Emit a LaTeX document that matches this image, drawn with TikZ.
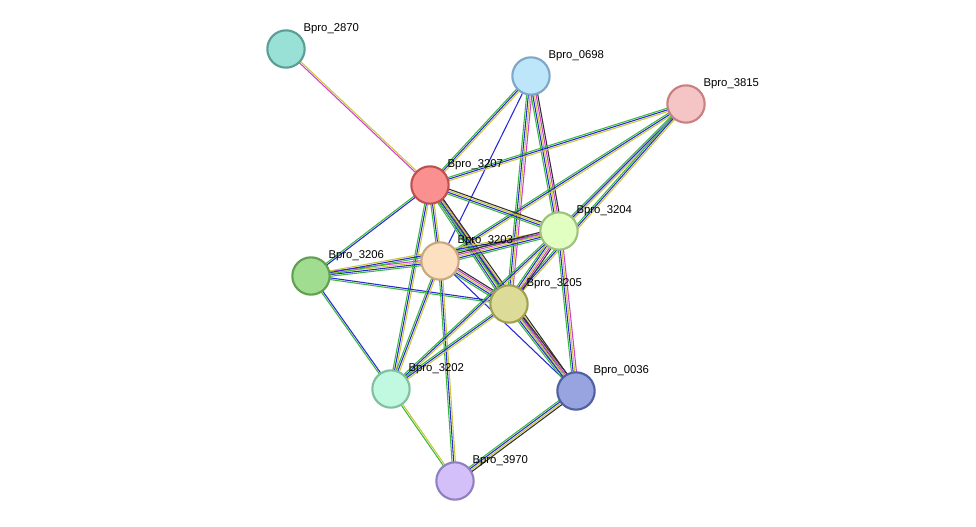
\documentclass[tikz,border=0pt]{standalone}
\usepackage{fontspec}
\setmainfont{Liberation Sans}
\usetikzlibrary{calc,backgrounds}
\definecolor{nb}{HTML}{3CB93C}
\definecolor{co}{HTML}{2828D8}
\definecolor{tm}{HTML}{C8C83A}
\definecolor{ex}{HTML}{D040D0}
\definecolor{bk}{HTML}{303030}
\tikzset{
  prot/.style={circle,draw,line width=1.6pt,minimum size=28pt,inner sep=0pt},
  lab/.style={font=\fontsize{8.5}{9}\selectfont,inner sep=1pt,anchor=south west},
}
\newcommand\edge[3]{%
  \foreach \c [count=\i] in {#3} {\xdef\ne{\i}}
  \foreach \c [count=\i] in {#3} {
    \pgfmathsetmacro\off{(\i-(\ne+1)/2)*1.25}
    \draw[\c,line width=0.8pt] ($(#1.center)!\off pt!90:(#2.center)$) -- ($(#2.center)!\off pt!-90:(#1.center)$);}}
\begin{document}
\begin{tikzpicture}[x=0.75pt,y=-0.75pt]
\useasboundingbox (0,0) rectangle (976,527);
% proteins
\node[prot,fill={rgb,255:red,153;green,224;blue,214},draw={rgb,255:red,90;green,158;blue,149}] (b2870) at (286,49) {};
\node[prot,fill={rgb,255:red,189;green,230;blue,250},draw={rgb,255:red,127;green,168;blue,200}] (b0698) at (531,76) {};
\node[prot,fill={rgb,255:red,245;green,196;blue,196},draw={rgb,255:red,200;green,128;blue,128}] (b3815) at (686,104) {};
\node[prot,fill={rgb,255:red,250;green,144;blue,144},draw={rgb,255:red,192;green,80;blue,80}] (b3207) at (430,185) {};
\node[prot,fill={rgb,255:red,224;green,255;blue,192},draw={rgb,255:red,160;green,192;blue,128}] (b3204) at (559,231) {};
\node[prot,fill={rgb,255:red,160;green,221;blue,144},draw={rgb,255:red,96;green,160;blue,80}] (b3206) at (311,276) {};
\node[prot,fill={rgb,255:red,252;green,224;blue,192},draw={rgb,255:red,200;green,168;blue,128}] (b3203) at (440,261) {};
\node[prot,fill={rgb,255:red,220;green,220;blue,152},draw={rgb,255:red,160;green,160;blue,80}] (b3205) at (509,304) {};
\node[prot,fill={rgb,255:red,192;green,248;blue,224},draw={rgb,255:red,128;green,192;blue,160}] (b3202) at (391,389) {};
\node[prot,fill={rgb,255:red,152;green,164;blue,224},draw={rgb,255:red,80;green,96;blue,160}] (b0036) at (576,391) {};
\node[prot,fill={rgb,255:red,212;green,192;blue,248},draw={rgb,255:red,144;green,128;blue,192}] (b3970) at (455,481) {};
% labels
\foreach \n in {2870,0698,3815,3207,3204,3206,3203,3205,3202,0036,3970}
  \node[lab] (l\n) at ($(b\n.center)+(16,-14)$) {Bpro\_\n};
% interactions
\begin{scope}[on background layer]
\edge{b2870}{b3207}{ex,tm}
\edge{b0698}{b3207}{nb,co,tm}
\edge{b0698}{b3203}{co}
\edge{b0698}{b3204}{nb,co,tm,ex,bk}
\edge{b0698}{b3205}{nb,co,tm,ex}
\edge{b3815}{b3207}{nb,co,tm}
\edge{b3815}{b3203}{nb,co,tm}
\edge{b3815}{b3204}{nb,co,tm}
\edge{b3815}{b3205}{nb,co,tm}
\edge{b3207}{b3204}{nb,co,tm,bk}
\edge{b3207}{b3203}{nb,co,tm}
\edge{b3207}{b3205}{nb,co,tm,bk,ex}
\edge{b3207}{b3206}{nb,co}
\edge{b3207}{b3202}{nb,co,tm}
\edge{b3207}{b0036}{nb,co,tm,bk}
\edge{b3206}{b3203}{nb,co,tm,ex}
\edge{b3206}{b3204}{nb,co,tm}
\edge{b3206}{b3205}{nb,co}
\edge{b3206}{b3202}{nb,co}
\edge{b3203}{b3204}{nb,co,tm,ex,bk}
\edge{b3203}{b3205}{nb,co,tm,ex,bk}
\edge{b3203}{b3202}{nb,co,tm}
\edge{b3203}{b3970}{nb,co,tm}
\edge{b3203}{b0036}{co}
\edge{b3204}{b3205}{nb,co,tm,ex,bk}
\edge{b3204}{b0036}{nb,co,tm,ex}
\edge{b3204}{b3202}{nb,co,tm}
\edge{b3205}{b3202}{nb,co,tm}
\edge{b3205}{b0036}{nb,co,tm,ex,bk}
\edge{b3202}{b3970}{nb,tm}
\edge{b0036}{b3970}{nb,co,tm,bk}
\end{scope}
\end{tikzpicture}
\end{document}
